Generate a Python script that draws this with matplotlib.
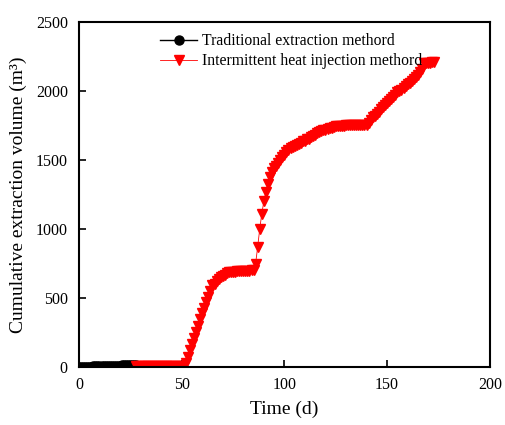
import numpy as np
from matplotlib import pyplot as plt

plt.rcParams['font.family'] = ['Liberation Serif', 'DejaVu Serif']

# traditional extraction, daily, d 0-28
trad_days = list(range(0, 29))
trad_vol = [0, 1, 1, 2, 2, 3, 3, 4, 4, 5, 5, 6, 6, 7, 7, 8, 8, 9, 9, 10,
            10, 11, 11, 12, 12, 13, 13, 14, 14]

# intermittent heat injection, daily, d 28-173
heat_days = list(range(28, 174))
heat_vol = [
    # 28-51
    6, 6, 6, 6, 6, 6, 6, 6, 6, 6, 6, 6, 6, 6, 6, 6, 6, 6, 6, 6, 6, 6, 6, 8,
    # 52-65
    30, 75, 120, 165, 210, 255, 300, 345, 390, 430, 470, 510, 550, 594,
    # 66-74
    605, 620, 635, 650, 660, 670, 680, 685, 690,
    # 75-85
    690, 692, 693, 694, 695, 696, 697, 698, 699, 700, 700,
    # 86-103
    750, 870, 1000, 1110, 1200, 1270, 1330, 1380, 1410, 1440, 1460, 1480,
    1500, 1520, 1540, 1560, 1575, 1585,
    # 104-127
    1595, 1600, 1610, 1615, 1625, 1635, 1640, 1650, 1655, 1665, 1675, 1685,
    1695, 1700, 1710, 1715, 1720, 1725, 1730, 1735, 1740, 1745, 1748, 1750,
    # 128-140
    1750, 1750, 1751, 1751, 1752, 1752, 1753, 1753, 1754, 1754, 1755, 1755, 1755,
    # 141-173
    1770, 1790, 1810, 1820, 1835, 1850, 1870, 1885, 1900, 1915, 1930, 1945,
    1960, 1975, 1990, 2000, 2010, 2020, 2035, 2050, 2060, 2075, 2090, 2105,
    2120, 2140, 2160, 2200, 2200, 2205, 2205, 2210, 2210,
]

fig = plt.figure(figsize=(5.06, 4.25), dpi=100)
ax = fig.add_axes([0.156, 0.1365, 0.812, 0.8115])

ax.plot(trad_days, trad_vol, '-o', color='black', ms=6.5, lw=1,
        label='Traditional extraction methord')
ax.plot(heat_days, heat_vol, '-v', color='red', ms=7.5, lw=0.6,
        label='Intermittent heat injection methord')

ax.set_xlim(0, 200)
ax.set_ylim(0, 2500)
ax.set_xticks([0, 50, 100, 150, 200])
ax.set_yticks([0, 500, 1000, 1500, 2000, 2500])
ax.tick_params(direction='in', length=5, width=1.2, labelsize=11.5)
ax.tick_params(axis='x', pad=7)
ax.tick_params(axis='y', pad=8)
for s in ax.spines.values():
    s.set_linewidth(1.5)

ax.set_xlabel('Time (d)', fontsize=14, labelpad=6)
ax.set_ylabel('Cumulative extraction volume (m³)', fontsize=14, labelpad=6)

ax.legend(loc='upper left', bbox_to_anchor=(0.17, 1.0), frameon=False,
          fontsize=11.3, handlelength=2.4, handletextpad=0.3,
          labelspacing=0.25, borderaxespad=0.3)

fig.savefig('out.png', dpi=100)
